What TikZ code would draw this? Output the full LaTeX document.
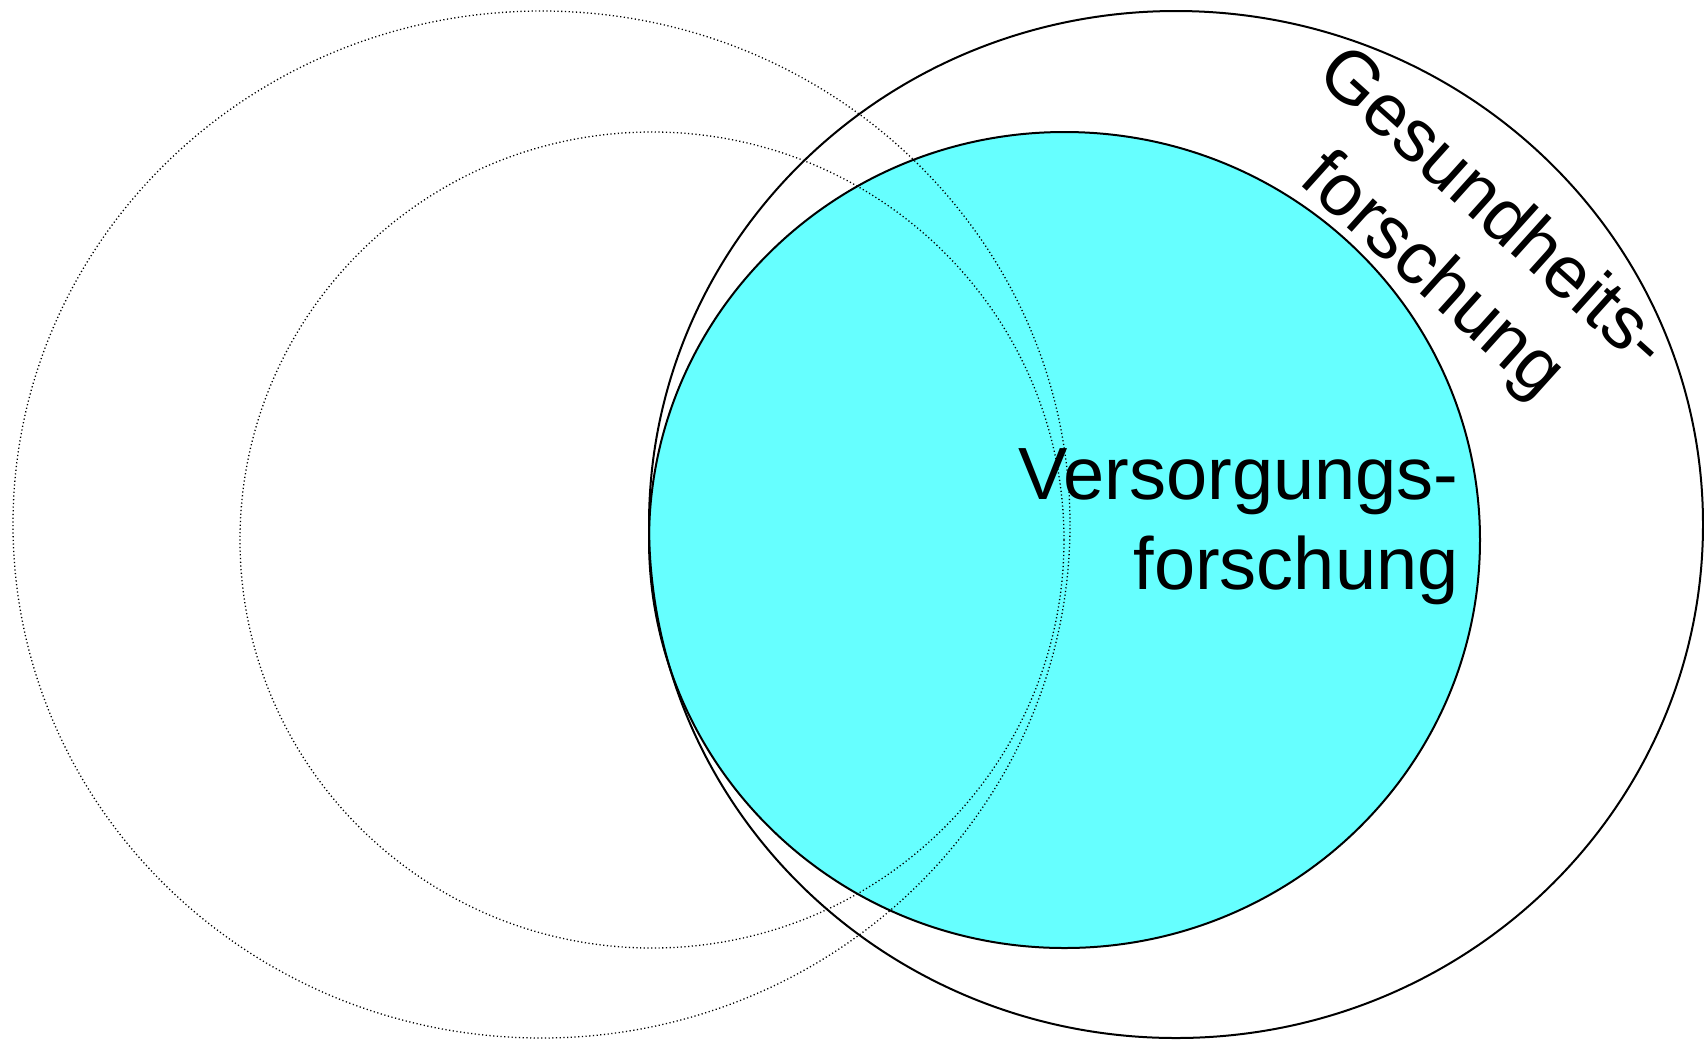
\documentclass[tikz,border=0pt]{standalone}
\usepackage{fontspec}
\setmainfont{Liberation Sans}
\usepackage{xcolor}
\usepackage{tikz}
\usetikzlibrary{positioning}
\definecolor{cyanfill}{HTML}{66FFFF}
\tikzset{
  ring/.style={draw=black,line width=1pt},
  corering/.style={ring,fill=cyanfill},
  dotring/.style={draw=black,line width=0.65pt,dash pattern=on 0.6pt off 1.25pt},
  areatext/.style={inner sep=0pt,font=\fontsize{37}{45}\selectfont}
}
\begin{document}
\begin{tikzpicture}[x=0.5pt,y=-0.5pt]
  \useasboundingbox (0,0) rectangle (1704,1041);
  \coordinate (gc) at (1176,524.5);
  \coordinate (vc) at (1064.5,540);
  \coordinate (ac) at (541.5,524.5);
  \coordinate (bc) at (652,540);
  \fill[cyanfill] (vc) ellipse [x radius=415.5,y radius=408];
  \draw[ring] (gc) ellipse [x radius=527,y radius=513.5];
  \draw[corering,fill=none] (vc) ellipse [x radius=415.5,y radius=408];
  \draw[dotring] (ac) ellipse [x radius=528.5,y radius=513.5];
  \draw[dotring] (bc) ellipse [x radius=412,y radius=408];
  \node[areatext,align=right,anchor=east] (versorgung) at (1459,527) {Versorgungs-\\forschung};
  \node[areatext,align=center,rotate=-42] (gesundheit) at (1461,244) {Gesundheits-\\forschung};
\end{tikzpicture}
\end{document}
